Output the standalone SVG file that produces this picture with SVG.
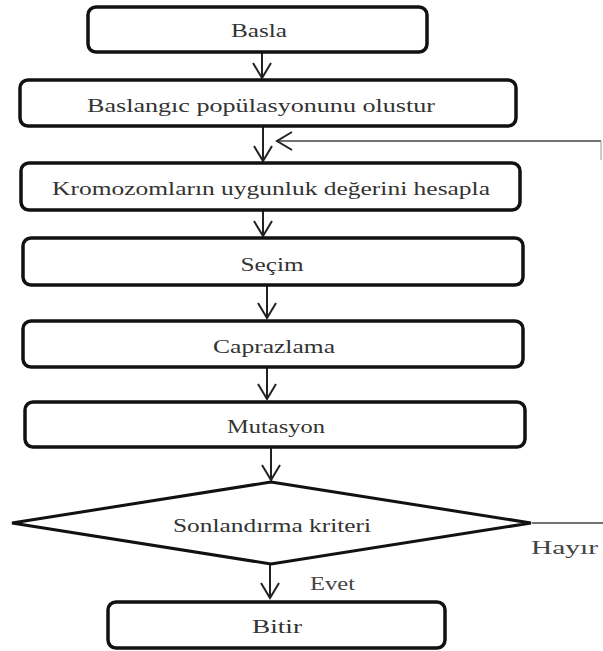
<svg xmlns="http://www.w3.org/2000/svg" width="603" height="651" viewBox="0 0 603 651">
<style>
.box{fill:#fff;stroke:#111;stroke-width:3.5}
.dia{fill:#fff;stroke:#111;stroke-width:3}
.t{font-family:"Liberation Serif","Times New Roman",serif;font-size:19px;fill:#333;text-anchor:middle}
.lbl{font-family:"Liberation Serif","Times New Roman",serif;font-size:18px;fill:#444}
.c{stroke:#222;stroke-width:2;fill:none}
.thin{stroke:#444;stroke-width:1.5;fill:none}
</style>
<defs>
<marker id="v" viewBox="0 0 20 20" refX="18" refY="10" markerWidth="20" markerHeight="20" markerUnits="userSpaceOnUse" orient="auto">
<path d="M3,1 L18,10 L3,19" fill="none" stroke="#222" stroke-width="2"/>
</marker>
</defs>
<rect width="603" height="651" fill="#fff"/>
<g id="connectors">
<line class="c" x1="262" y1="52" x2="262" y2="78" marker-end="url(#v)"/>
<line class="c" x1="263" y1="126" x2="263" y2="161" marker-end="url(#v)"/>
<line class="thin" x1="601" y1="141" x2="277" y2="141" marker-end="url(#v)"/>
<line stroke="#999" stroke-width="1" x1="601" y1="141" x2="601" y2="160"/>
<line class="c" x1="263" y1="210" x2="263" y2="236" marker-end="url(#v)"/>
<line class="c" x1="267" y1="285" x2="267" y2="318" marker-end="url(#v)"/>
<line class="c" x1="267" y1="367" x2="267" y2="399" marker-end="url(#v)"/>
<line class="c" x1="271" y1="447" x2="271" y2="480" marker-end="url(#v)"/>
<line class="c" x1="270" y1="564" x2="270" y2="598" marker-end="url(#v)"/>
<line class="thin" x1="532" y1="523" x2="603" y2="523"/>
<text class="lbl" x="531" y="554" textLength="67" lengthAdjust="spacingAndGlyphs">Hayır</text>
<text class="lbl" x="310" y="590" textLength="45" lengthAdjust="spacingAndGlyphs">Evet</text>
</g>
<g id="basla">
<rect class="box" x="88" y="7" width="339" height="45" rx="8"/>
<text class="t" x="259" y="37" textLength="56" lengthAdjust="spacingAndGlyphs">Basla</text>
</g>
<g id="baslangic">
<rect class="box" x="20" y="80" width="496" height="46" rx="8"/>
<text class="t" x="261" y="112" textLength="348" lengthAdjust="spacingAndGlyphs">Baslangıc popülasyonunu olustur</text>
</g>
<g id="uygunluk">
<rect class="box" x="21" y="163" width="499" height="47" rx="8"/>
<text class="t" x="271" y="195" textLength="438" lengthAdjust="spacingAndGlyphs">Kromozomların uygunluk değerini hesapla</text>
</g>
<g id="secim">
<rect class="box" x="23" y="238" width="500" height="47" rx="8"/>
<text class="t" x="272" y="271" textLength="63" lengthAdjust="spacingAndGlyphs">Seçim</text>
</g>
<g id="caprazlama">
<rect class="box" x="23" y="321" width="500" height="46" rx="8"/>
<text class="t" x="274" y="353" textLength="122" lengthAdjust="spacingAndGlyphs">Caprazlama</text>
</g>
<g id="mutasyon">
<rect class="box" x="25" y="402" width="500" height="45" rx="8"/>
<text class="t" x="276" y="433" textLength="98" lengthAdjust="spacingAndGlyphs">Mutasyon</text>
</g>
<g id="sonlandirma">
<polygon class="dia" points="271,482 531,523 271,564 12,523"/>
<text class="t" x="272" y="532" textLength="198" lengthAdjust="spacingAndGlyphs">Sonlandırma kriteri</text>
</g>
<g id="bitir">
<rect class="box" x="108" y="602" width="337" height="46" rx="8"/>
<text class="t" x="277" y="633" textLength="50" lengthAdjust="spacingAndGlyphs">Bitir</text>
</g>
</svg>
